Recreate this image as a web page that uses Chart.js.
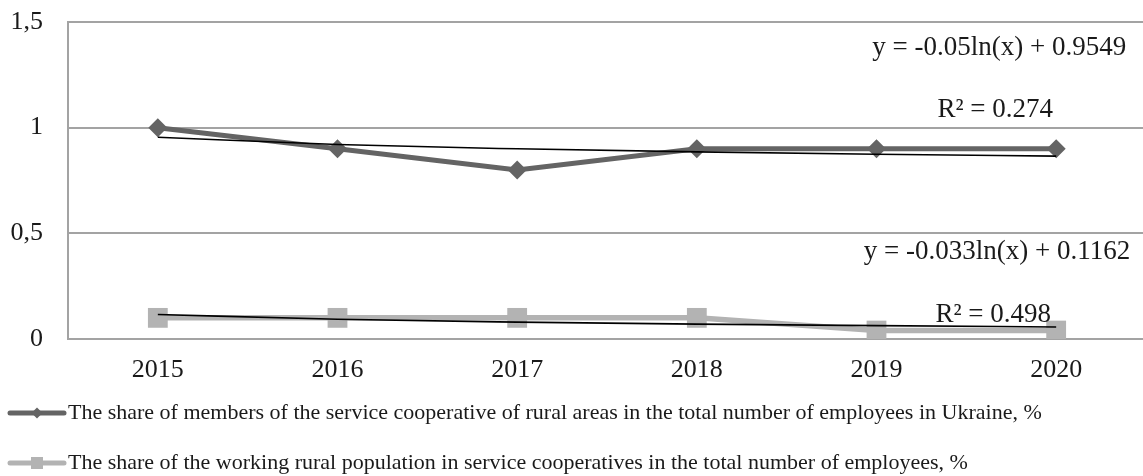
<!DOCTYPE html>
<html>
<head>
<meta charset="utf-8">
<title>Service cooperatives share</title>
<script src="https://cdn.jsdelivr.net/npm/chart.js@4.4.0/dist/chart.umd.min.js"></script>
<style>
    html, body { margin: 0; padding: 0; background: #fff; overflow: hidden; }
    .chart-wrap { position: relative; width: 1160px; height: 476px; }
</style>
</head>
<body>
<div class="chart-wrap"><canvas id="coopChart"></canvas></div>
<script>
/* Share of rural service cooperatives, 2015-2020 */

const years = ['2015', '2016', '2017', '2018', '2019', '2020'];
const membersShare = [1, 0.9, 0.8, 0.9, 0.9, 0.9];
const workingShare = [0.1, 0.1, 0.1, 0.1, 0.04, 0.04];
const yTickLabels = ['0', '0,5', '1', '1,5'];
const seriesNames = [
    'The share of members of the service cooperative of rural areas in the total number of employees in Ukraine, %',
    'The share of the working rural population in service cooperatives in the total number of employees, %'
];

// logarithmic trendlines: y = a * ln(x) + b
const membersTrend = { a: -0.05, b: 0.9549, eq: 'y = -0.05ln(x) + 0.9549', r2: 'R\u00B2 = 0.274' };
const workingTrend = { a: -0.033, b: 0.1162, eq: 'y = -0.033ln(x) + 0.1162', r2: 'R\u00B2 = 0.498' };

const FONT = "'Liberation Serif', 'DejaVu Serif', serif";
const TEXT = '#1a1a1a';
const GRID = '#a3a3a3';

function trendValues(t) {
    return years.map((_, i) => t.a * Math.log(i + 1) + t.b);
}

/* equation + R² labels, placed in data units */
const trendLabels = {
    id: 'trendLabels',
    afterDatasetsDraw(chart) {
        const { ctx, scales: { x, y } } = chart;
        const xr = x.getPixelForValue(5);
        ctx.save();
        ctx.font = '27px ' + FONT;
        ctx.fillStyle = TEXT;
        ctx.textBaseline = 'middle';
        ctx.textAlign = 'right';
        ctx.fillText(membersTrend.eq, xr + 70, y.getPixelForValue(1.377));
        ctx.fillText(workingTrend.eq, xr + 74, y.getPixelForValue(0.412));
        ctx.textAlign = 'center';
        ctx.fillText(membersTrend.r2, xr - 61, y.getPixelForValue(1.084));
        ctx.fillText(workingTrend.r2, xr - 63, y.getPixelForValue(0.114));
        ctx.restore();
    }
};

/* legend: one row per series, line + marker + text */
const rowLegend = {
    id: 'rowLegend',
    afterDraw(chart) {
        const ctx = chart.ctx;
        const items = chart.data.datasets.filter(ds => !ds.trend);
        items.forEach((ds, i) => {
            const y = chart.height - 63 + i * 50;
            ctx.save();
            ctx.strokeStyle = ds.borderColor;
            ctx.lineWidth = 5;
            ctx.lineCap = 'round';
            ctx.beginPath();
            ctx.moveTo(10, y);
            ctx.lineTo(64, y);
            ctx.stroke();
            ctx.fillStyle = ds.pointBackgroundColor;
            Chart.helpers.drawPoint(ctx, {
                pointStyle: ds.pointStyle,
                radius: ds.pointStyle === 'rect' ? 8.5 : 5.5,
                borderWidth: 0,
                rotation: 0
            }, 37, y);
            ctx.font = '22px ' + FONT;
            ctx.fillStyle = TEXT;
            ctx.textBaseline = 'middle';
            ctx.textAlign = 'left';
            ctx.fillText(ds.label, 68, y);
            ctx.restore();
        });
    }
};

new Chart(document.getElementById('coopChart'), {
    type: 'line',
    data: {
        labels: years,
        datasets: [
            {
                label: 'trend members',
                trend: true,
                data: trendValues(membersTrend),
                borderColor: '#000',
                borderWidth: 1.6,
                pointRadius: 0,
                cubicInterpolationMode: 'monotone',
                order: 0
            },
            {
                label: 'trend working',
                trend: true,
                data: trendValues(workingTrend),
                borderColor: '#000',
                borderWidth: 1.6,
                pointRadius: 0,
                cubicInterpolationMode: 'monotone',
                order: 0
            },
            {
                label: seriesNames[0],
                data: membersShare,
                borderColor: '#646464',
                backgroundColor: '#646464',
                pointBackgroundColor: '#646464',
                borderWidth: 5,
                pointStyle: 'rectRot',
                pointRadius: 9.5,
                pointBorderWidth: 0,
                order: 1
            },
            {
                label: seriesNames[1],
                data: workingShare,
                borderColor: '#b3b3b3',
                backgroundColor: '#b3b3b3',
                pointBackgroundColor: '#b3b3b3',
                borderWidth: 5.5,
                pointStyle: 'rect',
                pointRadius: 14,
                pointBorderWidth: 0,
                order: 1
            }
        ]
    },
    options: {
        responsive: true,
        maintainAspectRatio: false,
        animation: false,
        layout: { padding: { top: 22, right: 6, bottom: 91, left: 0 } },
        plugins: {
            legend: { display: false },
            tooltip: { enabled: false }
        },
        scales: {
            x: {
                offset: true,
                grid: { display: false, drawTicks: false },
                border: { display: true, color: GRID, width: 2 },
                ticks: {
                    padding: 16,
                    font: { family: FONT, size: 26 },
                    color: TEXT
                },
                afterFit: (scale) => { scale.height = 46; }
            },
            y: {
                min: 0,
                max: 1.5,
                grid: { color: GRID, lineWidth: 2, drawTicks: false },
                border: { display: true, color: GRID, width: 2 },
                ticks: {
                    stepSize: 0.5,
                    padding: 25,
                    font: { family: FONT, size: 26 },
                    color: TEXT,
                    callback: (v, i) => yTickLabels[i]
                },
                afterFit: (scale) => {
                    scale.width = 68;
                    scale.paddingTop = 0;
                    scale.paddingBottom = 0;
                }
            }
        }
    },
    plugins: [trendLabels, rowLegend]
});
</script>
</body>
</html>
